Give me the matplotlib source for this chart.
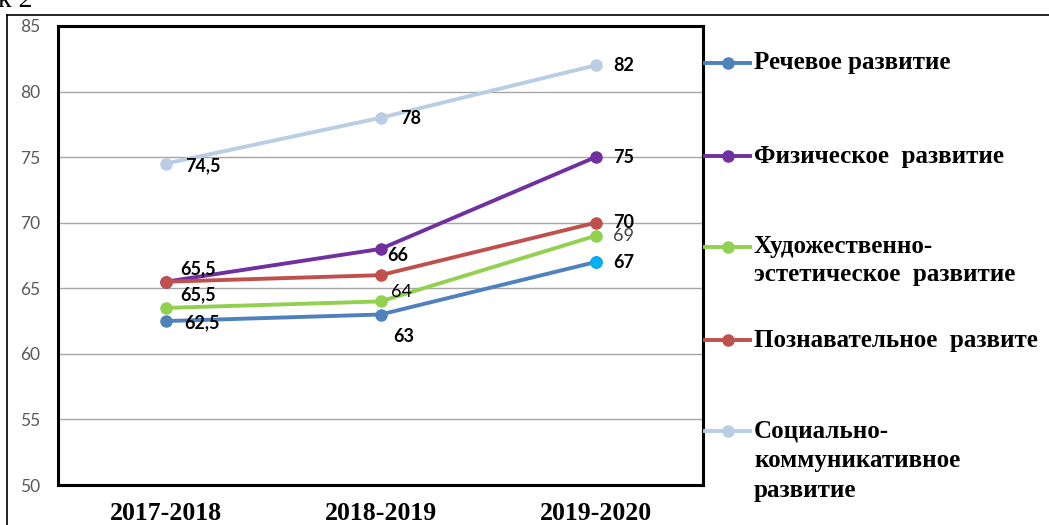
import matplotlib
matplotlib.use("Agg")
import matplotlib.pyplot as plt
from matplotlib.lines import Line2D

# data
years = ["2017-2018", "2018-2019", "2019-2020"]
rech = [62.5, 63, 67]
fiz = [65.5, 68, 75]
hud = [63.5, 64, 69]
pozn = [65.5, 66, 70]
soc = [74.5, 78, 82]

# labels as printed on the chart (None = no label)
rech_lbl = ["62,5", "63", "67"]
fiz_lbl = ["65,5", "66", "75"]
hud_lbl = [None, "64", "69"]
pozn_lbl = ["65,5", None, "70"]
soc_lbl = ["74,5", "78", "82"]

legend_names = [
    ["Речевое развитие"],
    ["Физическое  развитие"],
    ["Художественно-", "эстетическое  развитие"],
    ["Познавательное  развите"],
    ["Социально-", "коммуникативное", "развитие"],
]

colors = ["#4F81BD", "#7030A0", "#92D050", "#C0504D", "#B9CDE5"]

W, H = 1049, 525
fig = plt.figure(figsize=(W / 100, H / 100), dpi=100)

# outer frame and cut caption
fig.add_artist(Line2D([7 / W, 1.01], [1 - 15 / H, 1 - 15 / H], color="black", lw=1.2))
fig.add_artist(Line2D([7 / W, 7 / W], [1 - 15 / H, -0.01], color="black", lw=1.2))
fig.text(-0.002, 1 - 7 / H, "к 2", family="Liberation Serif", fontsize=20, va="baseline")

ax = fig.add_axes([58 / W, 1 - 485 / H, (703 - 58) / W, (485 - 26) / H])
x = list(range(len(years)))

series = [rech, fiz, hud, pozn, soc]
labels = [rech_lbl, fiz_lbl, hud_lbl, pozn_lbl, soc_lbl]
order = [4, 1, 3, 2, 0]  # draw order (back to front)
for k in order:
    ax.plot(x, series[k], color=colors[k], lw=2.8, marker="o", ms=8,
            solid_capstyle="round", zorder=3 + k)
# cyan last point of the speech series
ax.plot(x[2], rech[2], "o", color="#00B0F0", ms=8, zorder=9)

# label offsets in pixels (style only)
offs = {
    0: [(19, -2), (13, -22), (18, 0)],
    1: [(15, 13), (7, -7), (18, 0)],
    2: [None, (10, 9), (18, 0)],
    3: [(15, -13), None, (18, 0)],
    4: [(20, -2), (20, -1), (18, 0)],
}
for k in range(5):
    for i, t in enumerate(labels[k]):
        if t is None:
            continue
        normal = (k == 2)
        ax.annotate(t, (x[i], series[k][i]), xytext=offs[k][i], textcoords="offset pixels",
                    ha="left", va="center", fontsize=13, family="Lato",
                    fontweight="normal" if normal else "bold",
                    color="#404040" if (k == 2 and i == 2) else "black", zorder=10)

ax.set_xlim(-0.5, 2.5)
ax.set_ylim(50, 85)
ax.set_yticks(range(50, 86, 5))
ax.set_xticks(x)
ax.set_xticklabels(years, family="Liberation Serif", fontsize=18.5, fontweight="bold")
ax.tick_params(axis="x", length=0, pad=12)
ax.tick_params(axis="y", length=0, pad=13, labelcolor="#595959", labelsize=12.5)
for lab in ax.get_yticklabels():
    lab.set_family("Lato")
ax.grid(axis="y", color="#A6A6A6", lw=1)
ax.set_axisbelow(True)
for s in ax.spines.values():
    s.set_linewidth(2.2)
    s.set_color("black")

# legend drawn by hand to keep the layout of the original
leg_y = [63, 156, 247, 340, 431]
line_gap = [0, 0, 27, 0, 30]
for k in range(5):
    yy = 1 - leg_y[k] / H
    fig.add_artist(Line2D([705 / W, 750 / W], [yy, yy], color=colors[k], lw=2.8))
    fig.add_artist(Line2D([728 / W], [yy], color=colors[k], marker="o", ms=8))
    for j, name in enumerate(legend_names[k]):
        fig.text(754 / W, 1 - (leg_y[k] + j * line_gap[k]) / H, name,
                 family="Liberation Serif", fontsize=18, fontweight="bold", va="center")

fig.savefig("out.png", dpi=100)
